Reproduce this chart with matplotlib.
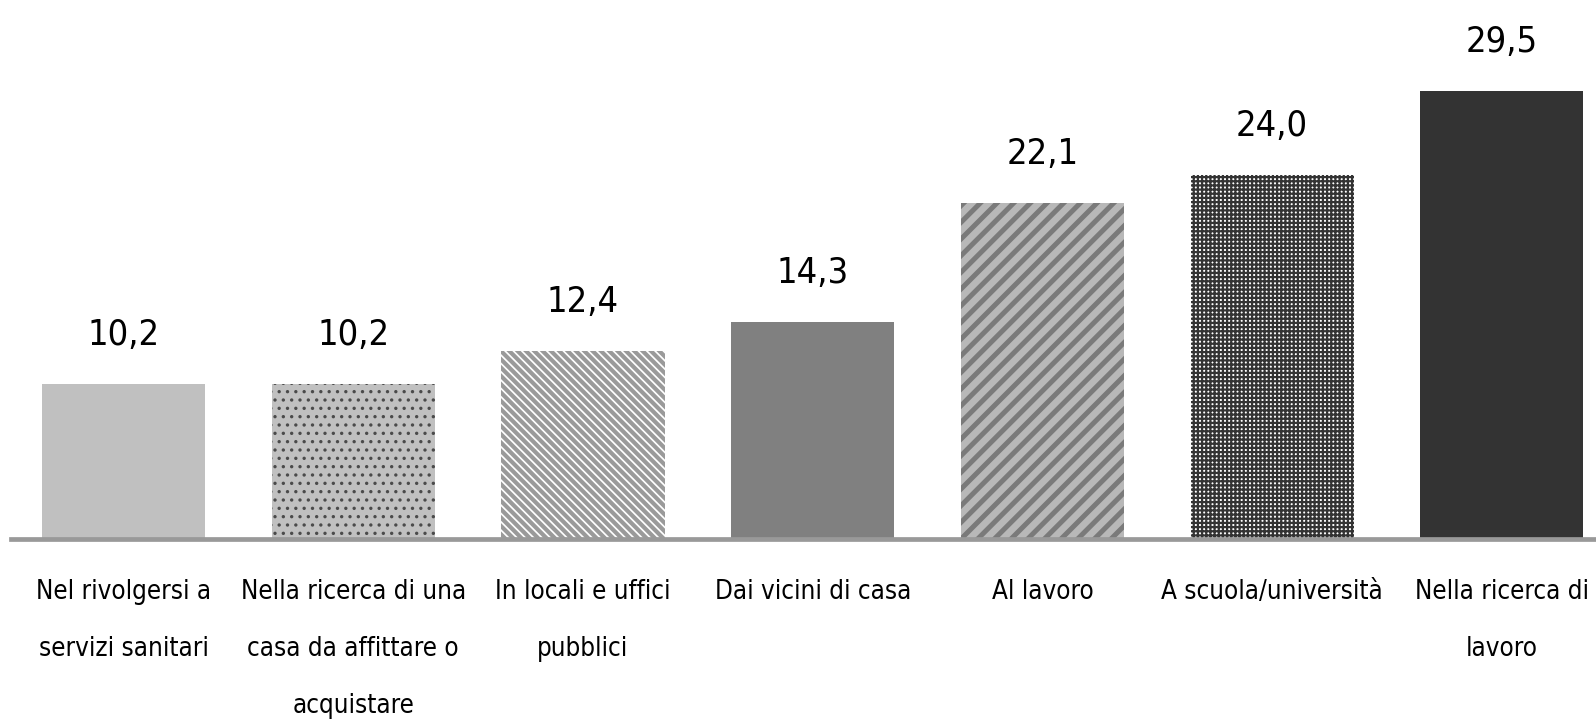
import matplotlib
matplotlib.use("Agg")
import matplotlib.pyplot as plt
from matplotlib import font_manager

# condensed sans if installed (the original uses an Arial Narrow look)
cond = None
for f in font_manager.fontManager.ttflist:
    base = f.fname.replace("\\", "/").split("/")[-1].lower()
    if base in ("liberationsansnarrow-regular.ttf", "dejavusanscondensed.ttf"):
        if cond is None or "liberation" in base:
            cond = f.fname
plt.rcParams["font.family"] = ["Liberation Sans", "DejaVu Sans"]

def fp(size):
    if cond:
        return font_manager.FontProperties(fname=cond, size=size)
    return font_manager.FontProperties(family=["Liberation Sans", "DejaVu Sans"], size=size)

# data
categorie = [
    "Nel rivolgersi a\nservizi sanitari",
    "Nella ricerca di una\ncasa da affittare o\nacquistare",
    "In locali e uffici\npubblici",
    "Dai vicini di casa",
    "Al lavoro",
    "A scuola/università",
    "Nella ricerca di\nlavoro",
]
valori = [10.2, 10.2, 12.4, 14.3, 22.1, 24.0, 29.5]

# fill styles per bar: (facecolor, hatch, hatch colour, hatch linewidth)
stili = [
    ("#c0c0c0", None, None, 0),
    ("#c0c0c0", "..", "#4a4a4a", 1.2),
    ("#ffffff", "\\\\\\\\", "#9a9a9a", 3.0),
    ("#808080", None, None, 0),
    ("#b8b8b8", "//", "#7a7a7a", 3.6),
    ("#ffffff", "++++", "#333333", 1.6),
    ("#333333", None, None, 0),
]

fig = plt.figure(figsize=(15.96, 7.25), dpi=100)
ax = fig.add_axes([11 / 1596, 0.2566, 1 - 11 / 1596, 0.7434])

x = list(range(len(valori)))
for xi, v, (fc, hatch, hc, hlw) in zip(x, valori, stili):
    with plt.rc_context({"hatch.linewidth": hlw if hatch else 1.0,
                         "hatch.color": hc if hc else "black"}):
        bar = ax.bar(xi, v, width=0.71, color=fc, hatch=hatch, linewidth=0,
                     edgecolor=hc if hc else fc)[0]
    if hatch and hasattr(bar, "set_hatch_linewidth"):
        bar.set_hatch_linewidth(hlw)
    ax.annotate(f"{v:.1f}".replace(".", ","), (xi, v), xytext=(0, 23),
                textcoords="offset points", ha="center", va="bottom",
                fontproperties=fp(26))

ax.set_xlim(-0.49, 6.41)
ax.set_ylim(0, 35.5)
ax.set_xticks(x)
ax.set_xticklabels(categorie, fontproperties=fp(24), linespacing=2.55)
ax.tick_params(axis="x", length=0, pad=29)
ax.set_yticks([])
for s in ["top", "right", "left"]:
    ax.spines[s].set_visible(False)
ax.spines["bottom"].set_color("#999999")
ax.spines["bottom"].set_linewidth(3.4)

# shrink the tick labels so the widest line fits like in the original
r = fig.canvas.get_renderer()
w = max(t.get_window_extent(r).width for t in ax.get_xticklabels()
        if "\n" not in t.get_text())
scale = min(1.0, 222.0 / w)
for t in ax.get_xticklabels():
    t.set_fontsize(24 * scale)

fig.savefig("out.png", dpi=100)
